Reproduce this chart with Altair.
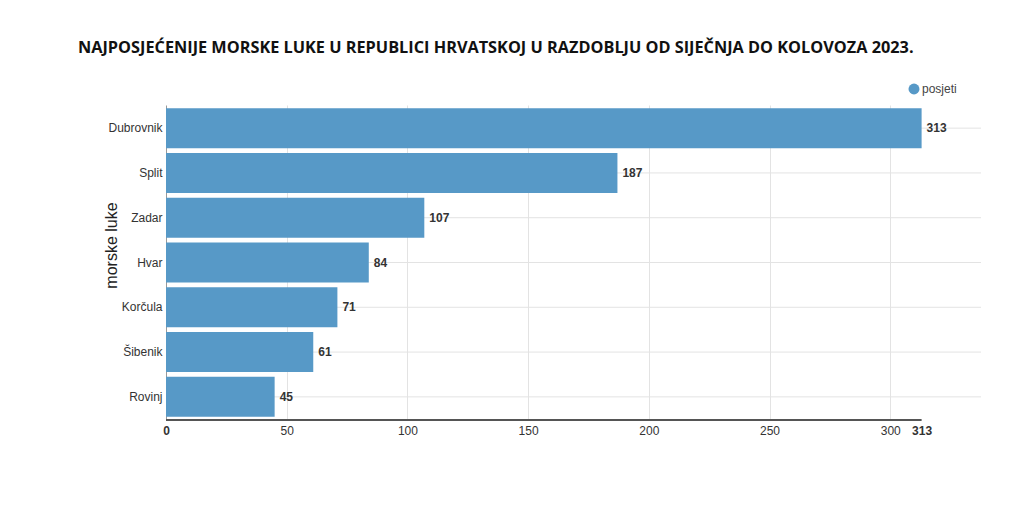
import altair as alt
import pandas as pd

ports = ["Dubrovnik", "Split", "Zadar", "Hvar", "Korčula", "Šibenik", "Rovinj"]
visits = [313, 187, 107, 84, 71, 61, 45]
series = ["posjeti"] * len(ports)
x_ticks = [0, 50, 100, 150, 200, 250, 300, 313]

df = pd.DataFrame({"luka": ports, "posjeti": visits, "serija": series})

W, H = 815, 315
BAR = "#5799c7"

base = alt.Chart(df)

yscale = alt.Scale(paddingInner=0.107, paddingOuter=0.07)

hgrid = base.mark_rule(color="#e3e3e3", strokeWidth=1).encode(
    y=alt.Y("luka:N", sort=ports, scale=yscale),
    x=alt.value(0),
    x2=alt.value(W),
)

bars = base.mark_bar(color=BAR).encode(
    x=alt.X(
        "posjeti:Q",
        scale=alt.Scale(domain=[0, 337.6], nice=False),
        axis=alt.Axis(
            values=x_ticks,
            title=None,
            ticks=False,
            domain=False,
            labelPadding=5,
            labelFont="Liberation Sans",
            labelFontSize=12,
            labelColor="#333",
            labelFontWeight=alt.ExprRef("datum.value == 0 || datum.value == 313 ? 'bold' : 'normal'"),
            labelOverlap=False,
            labelFlush=False,
            gridColor="#e3e3e3",
            gridOpacity=alt.ExprRef("datum.value == 313 || datum.value == 0 ? 0 : 1"),
        ),
    ),
    y=alt.Y(
        "luka:N",
        sort=ports,
        scale=yscale,
        axis=alt.Axis(
            title="morske luke",
            titleFont="Liberation Sans",
            titleFontSize=16,
            titleFontWeight="normal",
            titleColor="#222",
            titleAngle=-90,
            titleX=-55,
            titleY=140,
            titleAlign="center",
            titleBaseline="middle",
            ticks=False,
            labelPadding=4,
            labelFont="Liberation Sans",
            labelFontSize=12,
            labelColor="#333",
            domainColor="#999",
            grid=False,
        ),
    ),
    fill=alt.Fill(
        "serija:N",
        scale=alt.Scale(range=[BAR]),
        legend=alt.Legend(
            title=None,
            orient="none",
            legendX=W - 73,
            legendY=-22,
            symbolType="circle",
            symbolSize=120,
            symbolStrokeWidth=0,
            symbolOpacity=1,
            labelFont="Liberation Sans",
            labelFontSize=12,
            labelColor="#444",
            labelOffset=2,
        ),
    ),
)

labels = base.mark_text(
    align="left", baseline="middle", dx=5, font="Liberation Sans",
    fontSize=12, fontWeight="bold", color="#333"
).encode(
    x="posjeti:Q",
    y=alt.Y("luka:N", sort=ports),
    text="posjeti:Q",
)

axis_line = alt.Chart().mark_rule(color="#555", strokeWidth=2).encode(
    x=alt.datum(0),
    x2=alt.datum(max(visits)),
    y=alt.value(H),
)

chart = (
    alt.layer(hgrid, bars, labels, axis_line)
    .properties(
        width=W,
        height=H,
        view=alt.ViewBackground(stroke="transparent", strokeWidth=0),
        padding={"left": 166, "top": 105, "right": 43, "bottom": 104},
        autosize=alt.AutoSizeParams(type="none"),
        title=alt.TitleParams(
            text="NAJPOSJEĆENIJE MORSKE LUKE U REPUBLICI HRVATSKOJ U RAZDOBLJU OD SIJEČNJA DO KOLOVOZA 2023.",
            anchor="start",
            frame="group",
            dx=-88,
            offset=27,
            font="Open Sans",
            fontSize=16.3,
            fontWeight="bold",
            color="#111",
        ),
    )
    .configure_view(strokeWidth=0, stroke="transparent")
    .configure(background="white")
)

chart.save("out.html", embed_options={"renderer": "svg", "actions": False})
